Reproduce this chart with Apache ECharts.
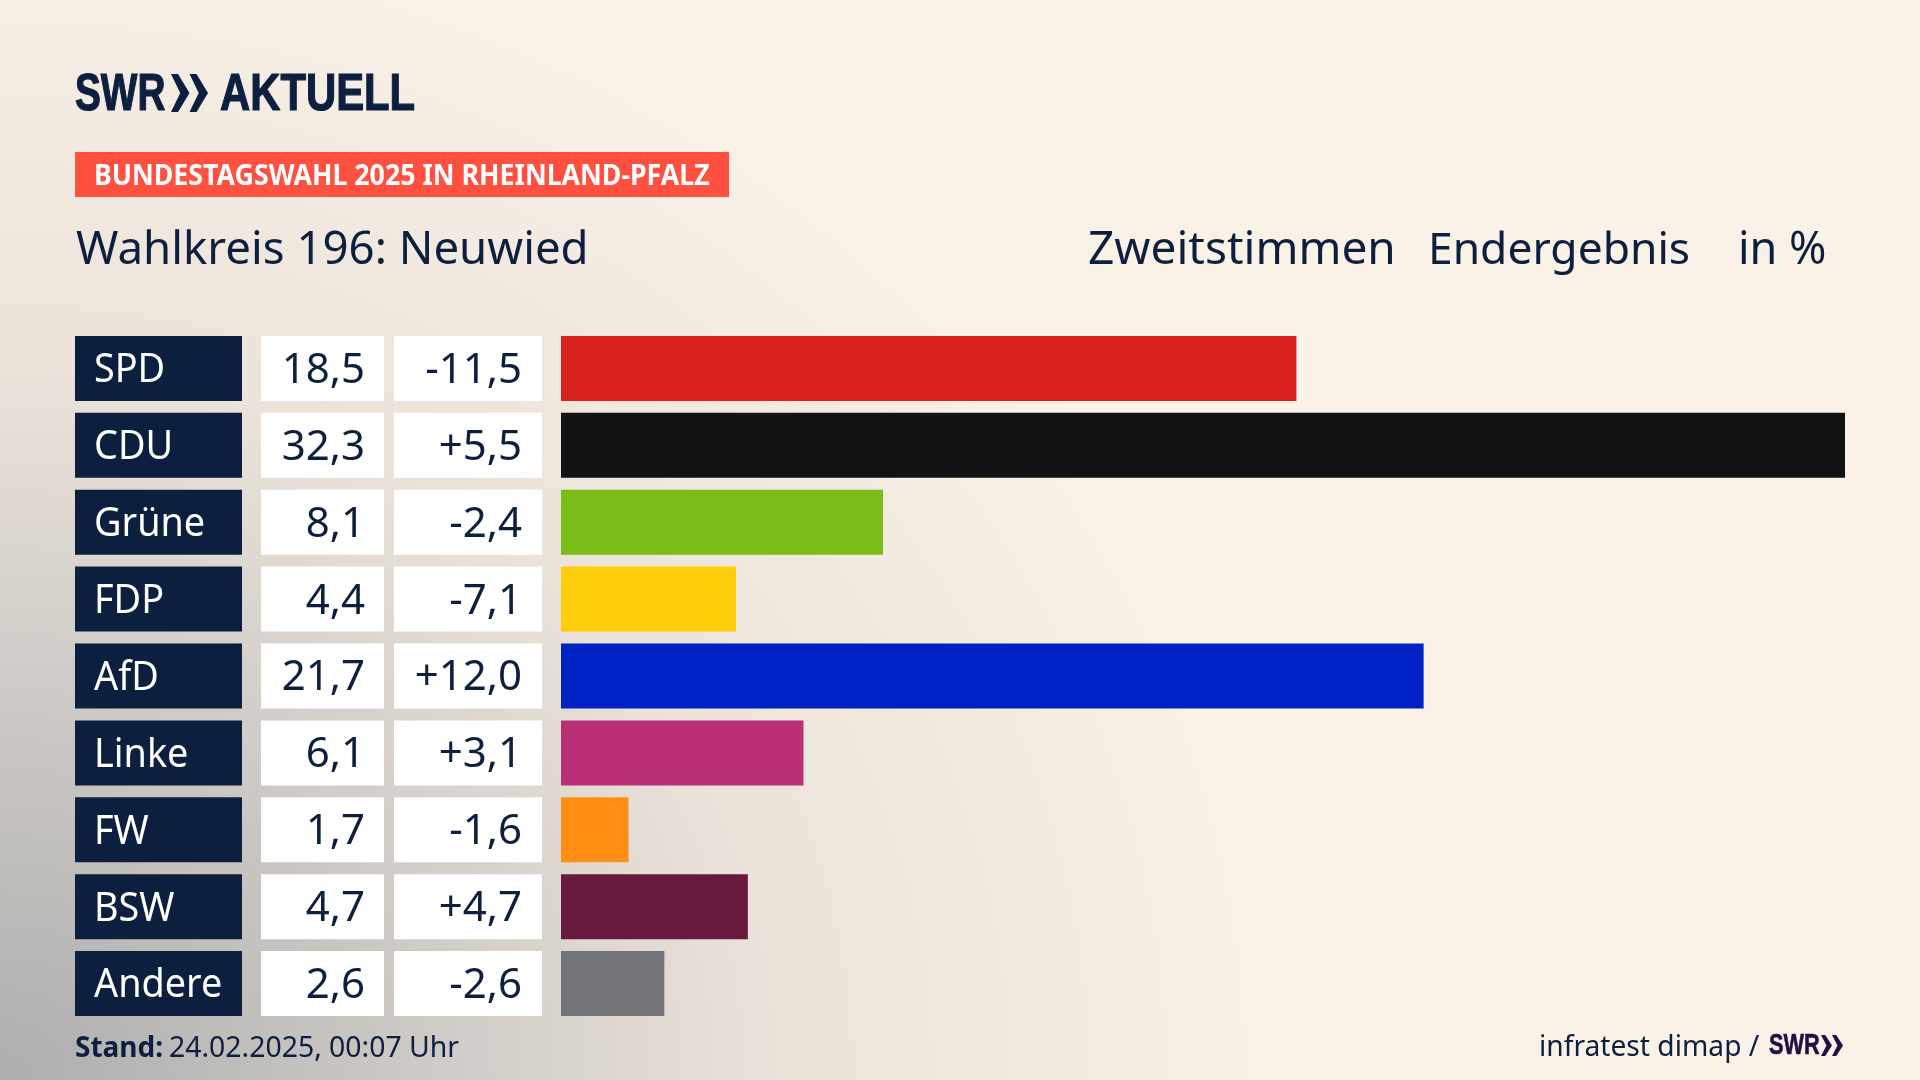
<!DOCTYPE html>
<html>
<head>
<meta charset="utf-8">
<title>Wahlkreis 196: Neuwied</title>
<script src="https://cdn.jsdelivr.net/npm/echarts@6/dist/echarts.min.js"></script>
<style>
    html, body { margin: 0; width: 1920px; height: 1080px; overflow: hidden; }
    body {
        background-color: #faf1e7;
        background-image:
            radial-gradient(ellipse 1300px 1180px at 0px 1080px, rgba(172,172,172,0.97) 0%, rgba(192,190,187,0.85) 28%, rgba(225,218,210,0.6) 60%, rgba(250,241,231,0) 100%);
    }
    #chart { width: 1920px; height: 1080px; }
</style>
</head>
<body>
<div id="chart"></div>
<script>
const parties = ['SPD', 'CDU', 'Grüne', 'FDP', 'AfD', 'Linke', 'FW', 'BSW', 'Andere'];
const shares = [18.5, 32.3, 8.1, 4.4, 21.7, 6.1, 1.7, 4.7, 2.6];
const changes = [-11.5, 5.5, -2.4, -7.1, 12.0, 3.1, -1.6, 4.7, -2.6];
const barColors = ['#d8201f', '#121212', '#7bbd18', '#ffcd0a', '#0022c4', '#b93076', '#ff8f14', '#681a3e', '#737477'];

const NAVY = '#0c1f3f';
const FONT = '"Noto Sans", sans-serif';
const LOGO_FONT = '"Liberation Sans", sans-serif';

const fmt = v => v.toFixed(1).replace('.', ',');
const fmtChange = v => (v > 0 ? '+' : '') + fmt(v);

// chevrons of the logo
const chevrons = (x, top, bottom, w, color) => {
    const mid = (top + bottom) / 2;
    return [0, 1].map(i => {
        const x0 = x + i * w;
        return {
            type: 'polygon',
            shape: { points: [[x0, top], [x0 + w * 0.38, top], [x0 + w, mid], [x0 + w * 0.38, bottom], [x0, bottom], [x0 + w * 0.5, mid]] },
            style: { fill: color }
        };
    });
};

const text = (str, x, y, size, opts = {}) => ({
    type: 'text',
    x: x,
    y: y,
    scaleX: opts.scaleX || 1,
    style: {
        text: str,
        x: 0,
        y: 0,
        fill: opts.color || NAVY,
        stroke: opts.heavy ? (opts.color || NAVY) : null,
        lineWidth: opts.heavy || 0,
        font: `${opts.weight || 'normal'} ${size}px ${opts.family || FONT}`,
        textAlign: opts.align || 'left',
        textVerticalAlign: 'middle'
    }
});

// table cells left of the bars, y comes from the category axis
const renderRow = (params, api) => {
    const i = api.value(0);
    const cy = api.coord([0, i])[1];
    const top = cy - 32.5;
    const rect = (x, w, fill) => ({ type: 'rect', shape: { x: x, y: top, width: w, height: 65 }, style: { fill: fill } });
    const cell = (str, x, size, scaleX, color, align) => ({
        type: 'text',
        x: x,
        y: cy + 2.5,
        scaleX: scaleX,
        style: { text: str, fill: color, font: `${size}px ${FONT}`, textAlign: align, textVerticalAlign: 'middle' }
    });
    return {
        type: 'group',
        children: [
            rect(75, 167, NAVY),
            rect(261, 123, '#ffffff'),
            rect(394, 148, '#ffffff'),
            cell(parties[i], 94, 40, 0.945, '#ffffff', 'left'),
            cell(fmt(shares[i]), 365, 42, 1, NAVY, 'right'),
            cell(fmtChange(changes[i]), 522, 42, 1, NAVY, 'right')
        ]
    };
};

const chart = echarts.init(document.getElementById('chart'));
chart.setOption({
    animation: false,
    backgroundColor: 'transparent',
    grid: { left: 561, top: 330, width: 1284, height: 692 },
    xAxis: { type: 'value', min: 0, max: 32.3, show: false },
    yAxis: { type: 'category', data: parties, inverse: true, show: false },
    graphic: [
        text('SWR', 75, 96, 51, { family: LOGO_FONT, weight: 'bold', scaleX: 0.76, heavy: 1.2 }),
        ...chevrons(171, 74, 112, 18.5, NAVY),
        text('AKTUELL', 220, 96, 51, { family: LOGO_FONT, weight: 'bold', scaleX: 0.82, heavy: 1.2 }),
        { type: 'rect', shape: { x: 75, y: 152, width: 654, height: 45 }, style: { fill: '#ff5040' } },
        text('BUNDESTAGSWAHL 2025 IN RHEINLAND-PFALZ', 94, 177, 28, { color: '#ffffff', weight: 'bold', scaleX: 0.955 }),
        text('Wahlkreis 196: Neuwied', 76, 251, 45.6),
        text('Zweitstimmen', 1088, 251, 46),
        text('Endergebnis', 1428, 251, 44.4),
        text('in %', 1738, 251, 45),
        text('Stand:', 75, 1049, 28, { weight: 'bold' }),
        text('24.02.2025, 00:07 Uhr', 169, 1049, 28.4),
        text('infratest dimap /', 1539, 1047.5, 28.2),
        text('SWR', 1769, 1046, 29, { family: LOGO_FONT, weight: 'bold', color: '#1e0f46', scaleX: 0.75, heavy: 0.6 }),
        ...chevrons(1821, 1035, 1056, 11, '#1e0f46')
    ],
    series: [
        {
            type: 'bar',
            data: shares,
            barWidth: 65,
            silent: true,
            itemStyle: { color: p => barColors[p.dataIndex] }
        },
        {
            type: 'custom',
            silent: true,
            data: parties.map((p, i) => [i]),
            encode: { y: 0 },
            renderItem: renderRow
        }
    ]
});
</script>
</body>
</html>
